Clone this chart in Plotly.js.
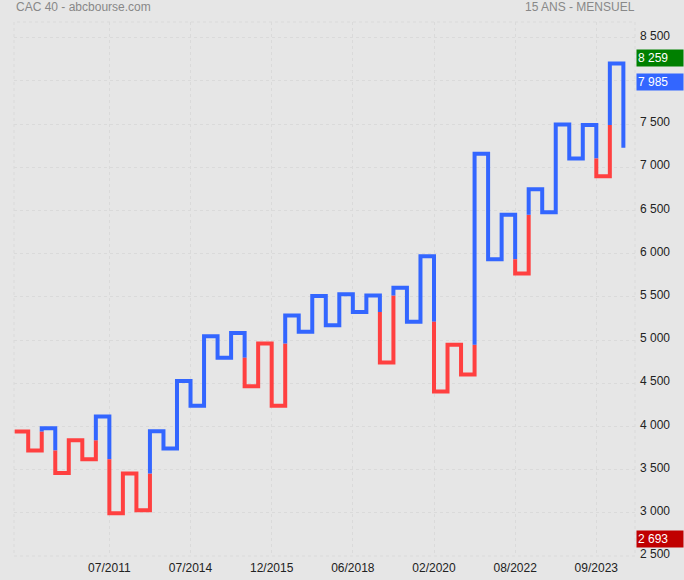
<!DOCTYPE html>
<html>
<head>
<meta charset="utf-8">
<script src="https://cdn.plot.ly/plotly-3.0.1.min.js"></script>
<style>html,body{margin:0;padding:0;background:#e6e6e6;}#chart{width:684px;height:580px;}</style>
</head>
<body>
<div id="chart"></div>
<script>
// Kagi turning levels (CAC 40, monthly, 15 years): start level then each column's end level
const kagiLevels = [3940, 3720, 3980, 3460, 3840, 3620, 4115, 2995, 3455, 3030,
  3945, 3745, 4525, 4240, 5045, 4795, 5080, 4465, 4960, 4240,
  5285, 5095, 5510, 5170, 5530, 5325, 5515, 4740, 5605, 5210,
  5970, 4405, 4945, 4600, 7155, 5935, 6450, 5770, 6745, 6480,
  7495, 7100, 7490, 6895, 8200, 7225];
// x tick positions (column index) and labels
const tickIndex = [7, 13, 19, 25, 31, 37, 43];
const tickLabels = ["07/2011", "07/2014", "12/2015", "06/2018", "02/2020", "08/2022", "09/2023"];
// right-side value tags
const tagValues = [8259, 7985, 2693];
const tagTexts = ["8 259", "7 985", "2 693"];
const tagColors = ["#008000", "#3366ff", "#c00000"];

const BLUE = "#3366ff", RED = "#ff4040";

// Build kagi runs with yin/yang colour switching at prior shoulder/waist
const runs = [];
let state = RED;
let cur = {color: state, x: [0, 1], y: [kagiLevels[0], kagiLevels[0]]};
for (let i = 0; i < kagiLevels.length - 1; i++) {
  const xPos = i + 1;
  const a = kagiLevels[i], b = kagiLevels[i + 1];
  const prev = i >= 1 ? kagiLevels[i - 1] : null;
  if (prev !== null && b > a && state === RED && b > prev) {
    cur.x.push(xPos); cur.y.push(prev); runs.push(cur);
    state = BLUE; cur = {color: state, x: [xPos], y: [prev]};
  } else if (prev !== null && b < a && state === BLUE && b < prev) {
    cur.x.push(xPos); cur.y.push(prev); runs.push(cur);
    state = RED; cur = {color: state, x: [xPos], y: [prev]};
  }
  cur.x.push(xPos); cur.y.push(b);
  if (i < kagiLevels.length - 2) { cur.x.push(xPos + 1); cur.y.push(b); }
}
runs.push(cur);

const traces = runs.map(r => ({
  type: "scatter", mode: "lines", x: r.x, y: r.y,
  line: {color: r.color, width: 4}, hoverinfo: "skip", showlegend: false
}));

const FONT = "Liberation Sans, Arial, sans-serif";
const annotations = [
  {xref: "paper", yref: "paper", x: 0, y: 1, xanchor: "left", yanchor: "bottom", yshift: 6, showarrow: false,
   text: "CAC 40 - abcbourse.com", font: {family: FONT, size: 12, color: "#888888"}},
  {xref: "paper", yref: "paper", x: 1, y: 1, xanchor: "right", yanchor: "bottom", yshift: 6, xshift: 2, showarrow: false,
   text: "15 ANS - MENSUEL", font: {family: FONT, size: 12, color: "#888888"}}
];
tagValues.forEach((v, k) => annotations.push({
  xref: "paper", yref: "y", x: 1, y: v, xanchor: "left", yanchor: "middle", xshift: 1,
  showarrow: false, text: tagTexts[k], bgcolor: tagColors[k], borderpad: 1,
  width: 44, align: "left",
  font: {family: FONT, size: 12, color: "#ffffff"}
}));

const layout = {
  width: 684, height: 580,
  margin: {l: 14, r: 49, t: 22, b: 24, pad: 0},
  paper_bgcolor: "#e6e6e6", plot_bgcolor: "#e6e6e6",
  separators: ". ",
  font: {family: FONT, size: 12, color: "#222222"},
  xaxis: {
    range: [-0.05, 45.86], tickmode: "array", tickvals: tickIndex, ticktext: tickLabels,
    showgrid: true, gridcolor: "#dadada", griddash: "dot", gridwidth: 1,
    zeroline: false, showline: false, ticks: "", ticklabelstandoff: 3, fixedrange: true
  },
  yaxis: {
    range: [2500, 8681], side: "right", tick0: 2500, dtick: 500, tickformat: ",d",
    showgrid: true, gridcolor: "#dadada", griddash: "dot", gridwidth: 1,
    zeroline: false, showline: false, ticks: "", ticklabelstandoff: 4, ticklabelshift: -2,
    fixedrange: true
  },
  shapes: [
    {type: "rect", xref: "paper", yref: "paper", x0: 0, x1: 1, y0: 0, y1: 1,
     line: {color: "#dadada", width: 1, dash: "dot"}, layer: "below"}
  ],
  annotations: annotations,
  hovermode: false
};

Plotly.newPlot("chart", traces, layout, {displayModeBar: false, staticPlot: true});
</script>
</body>
</html>
